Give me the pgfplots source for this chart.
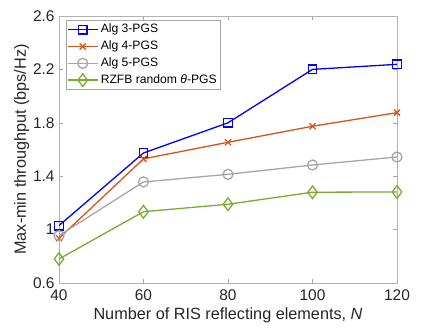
\documentclass[border=0pt]{standalone}
\usepackage{pgfplots}
\pgfplotsset{compat=1.18}
\usepackage{fontspec}
\setmainfont{Liberation Sans}
\definecolor{mblue}{rgb}{0,0,1}
\definecolor{morange}{rgb}{0.85,0.325,0.098}
\definecolor{mgray}{rgb}{0.65,0.65,0.65}
\definecolor{mgreen}{rgb}{0.466,0.674,0.188}
\definecolor{axgray}{rgb}{0.15,0.15,0.15}
\begin{document}
\begin{tikzpicture}
\begin{axis}[
  scale only axis,
  width=338bp, height=267bp,
  xmin=40, xmax=120, ymin=0.6, ymax=2.6,
  xtick={40,60,80,100,120},
  ytick={0.6,1,1.4,1.8,2.2,2.6},
  tick align=inside,
  major tick length=4bp,
  axis line style={gray!60, line width=0.6bp},
  every tick/.style={gray!70, line width=0.6bp},
  tick label style={font=\fontsize{15.5}{18}\selectfont, text=axgray},
  xticklabel style={yshift=-3bp},
  yticklabel style={xshift=-1bp},
  label style={font=\fontsize{16.3}{19}\selectfont, text=axgray},
  /pgf/number format/assume math mode=true,
  xlabel={Number of RIS reflecting elements, \textit{N}},
  ylabel={Max-min throughput (bps/Hz)},
  xlabel style={yshift=0bp},
  ylabel style={yshift=-3bp},
  legend cell align=left,
  legend style={font=\fontsize{12.2}{14}\selectfont, draw=gray!70, line width=0.6bp, at={(0.02,0.985)}, anchor=north west, inner sep=1bp, row sep=0bp,
    nodes={text height=9bp, text depth=3bp, inner sep=2.4bp}},
  legend image code/.code={\draw[mark repeat=2,mark phase=2,#1] plot coordinates {(0bp,0bp)(15bp,0bp)(30bp,0bp)};},
  every axis plot/.append style={line width=1.3bp},
]
\addplot[color=mblue, mark=square, mark size=4.3bp, mark options={solid}] coordinates {
(40,1.03) (60,1.574) (80,1.80) (100,2.20) (120,2.238)};
\addlegendentry{Alg 3-PGS}
\addplot[color=morange, mark=x, mark size=4.3bp] coordinates {
(40,0.935) (60,1.53) (80,1.654) (100,1.774) (120,1.876)};
\addlegendentry{Alg 4-PGS}
\addplot[color=mgray, mark=o, mark size=5bp] coordinates {
(40,0.955) (60,1.357) (80,1.414) (100,1.484) (120,1.544)};
\addlegendentry{Alg 5-PGS}
\addplot[color=mgreen, mark=diamond, mark size=6.3bp] coordinates {
(40,0.78) (60,1.134) (80,1.19) (100,1.28) (120,1.282)};
\addlegendentry{RZFB random \textit{θ}-PGS}
\end{axis}
\pgfresetboundingbox
\path[use as bounding box] ([xshift=-59bp,yshift=-45bp]current axis.south west) rectangle ([xshift=39bp,yshift=16bp]current axis.north east);
\end{tikzpicture}
\end{document}
